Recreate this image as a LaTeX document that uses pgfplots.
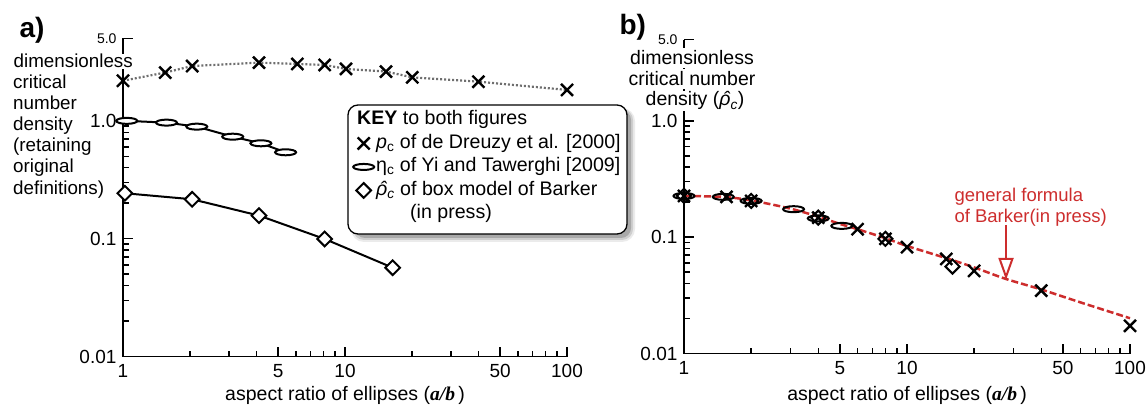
\documentclass[border=0pt]{standalone}
\usepackage{pgfplots}
\pgfplotsset{compat=1.18}
\usepackage{fontspec}
\setmainfont{Liberation Sans}
\newfontfamily\timesfont{Liberation Serif}
\usetikzlibrary{arrows.meta}
\definecolor{annred}{RGB}{205,45,45}
\definecolor{dotgray}{RGB}{110,110,110}
\newcommand{\fsz}[1]{\fontsize{#1}{#1}\selectfont}
\newcommand{\rhohat}{\textit{\makebox[0pt][l]{\hspace{0.2em}ˆ}ρ}}
\newcommand{\rhoc}{\rhohat\textsubscript{\textit{c}}}

\begin{document}
\begin{tikzpicture}
\useasboundingbox (0pt,0pt) rectangle (1146pt,407pt);

% legend box with soft shadow
\fill[black, opacity=0.08, rounded corners=13pt] (351pt,165pt) rectangle (635pt,299pt);
\fill[black, opacity=0.12, rounded corners=11pt] (353pt,167pt) rectangle (633pt,298pt);
\fill[black, opacity=0.18, rounded corners=10pt] (355pt,169pt) rectangle (631pt,297pt);
\filldraw[fill=white, draw=black, line width=1.3pt, rounded corners=10pt] (348pt,173pt) rectangle (627pt,302pt);

% ---------------- panel a
\begin{axis}[width=444pt, height=318pt, at={(123pt,50.5pt)}, anchor=south west,
    scale only axis, xmode=log, ymode=log,
    xmin=1, xmax=100, ymin=0.01, ymax=5,
    axis x line=bottom, axis y line=left,
    axis line style={line width=1.8pt,-},
    xtick={1,5,10,50,100}, xticklabels={1,5,10,50,100},
    minor xtick={2,3,4,6,7,8,9,20,30,40,60,70,80,90},
    ytick={0.01,0.1,1,5}, yticklabels={0.01,0.1,1.0,{\fsz{14}5.0}},
    minor ytick={0.02,0.03,0.04,0.05,0.06,0.07,0.08,0.09,0.2,0.3,0.4,0.5,0.6,0.7,0.8,0.9},
    tick style={line width=1.5pt, black},
    major tick length=10pt, minor tick length=6pt,
    tick align=inside,
    tick label style={font=\fsz{19}},
    xticklabel style={yshift=-4.3pt},
    yticklabel style={xshift=-3pt},
    clip=false,
  legend cell align=left,
  legend style={at={(0.509,0.7909)}, anchor=north west, draw=none, fill=none,
    font=\fsz{19.6}, inner xsep=4pt, inner ysep=3pt, row sep=0pt, column sep=0pt,
    nodes={inner xsep=2pt, inner ysep=3pt, text height=13.5pt, text depth=4pt}},
]
\addplot[forget plot, dotgray, dash pattern=on 2pt off 2pt, line width=2.2pt, mark=x, mark size=8.5pt,
  mark options={solid, black, line width=2.4pt}] coordinates {
  (1,2.19) (1.55,2.57) (2.05,2.92) (4.1,3.12) (6.1,3.04) (8.1,2.98)
  (10.1,2.76) (15.3,2.62) (20.1,2.34) (39.9,2.15) (100,1.83)};

\addplot[forget plot, black, line width=2pt, mark=*, mark size=3pt,
  mark options={solid, xscale=3.5, fill=white, draw=black, line width=2pt}] coordinates {
  (1.04,1.0) (1.57,0.966) (2.15,0.893) (3.12,0.734) (4.18,0.645) (5.4,0.541)};

\addplot[forget plot, black, line width=2pt, mark=square*, mark size=5.2pt,
  mark options={solid, rotate=45, fill=white, draw=black, line width=2pt}] coordinates {
  (1.02,0.243) (2.05,0.216) (4.1,0.157) (8.1,0.0994) (16.4,0.0567)};

\addlegendimage{empty legend}
\addlegendentry{\hspace*{-19pt}\textbf{KEY} to both figures}
\addlegendimage{only marks, mark=x, mark size=8.5pt, black, line width=2.4pt}
\addlegendentry{\textit{p}\textsubscript{c} of de Dreuzy et al. [2000]}
\addlegendimage{only marks, mark=*, mark size=3pt, mark options={xscale=3.5, fill=white, draw=black, line width=2pt}}
\addlegendentry{η\textsubscript{c} of Yi and Tawerghi [2009]}
\addlegendimage{only marks, mark=square*, mark size=5.2pt, mark options={rotate=45, fill=white, draw=black, line width=2pt}}
\addlegendentry{\rhoc{} of box model of Barker}
\addlegendimage{empty legend}
\addlegendentry{\hspace*{34pt}(in press)}
\end{axis}

% ---------------- panel b
\begin{axis}[width=446pt, height=314pt, at={(684pt,53.5pt)}, anchor=south west,
    scale only axis, xmode=log, ymode=log,
    xmin=1, xmax=100, ymin=0.01, ymax=5,
    axis x line=bottom, axis y line=left,
    axis line style={line width=1.8pt,-},
    xtick={1,5,10,50,100}, xticklabels={1,5,10,50,100},
    minor xtick={2,3,4,6,7,8,9,20,30,40,60,70,80,90},
    ytick={0.01,0.1,1,5}, yticklabels={0.01,0.1,1.0,{\fsz{14}5.0}},
    minor ytick={0.02,0.03,0.04,0.05,0.06,0.07,0.08,0.09,0.2,0.3,0.4,0.5,0.6,0.7,0.8,0.9},
    tick style={line width=1.5pt, black},
    major tick length=10pt, minor tick length=6pt,
    tick align=inside,
    tick label style={font=\fsz{19}},
    xticklabel style={yshift=-4.3pt},
    yticklabel style={xshift=-3pt},
    clip=false,
]
\addplot[annred, line width=2.5pt, dash pattern=on 7pt off 3pt, smooth, no marks] coordinates {
  (1,0.226) (1.5,0.222) (2,0.207) (3,0.176) (4,0.150) (5,0.130) (6,0.117)
  (8,0.098) (10,0.084) (15,0.066) (20,0.055) (27.5,0.044) (40,0.0355)
  (60,0.0275) (100,0.0201)};
\addplot[only marks, mark=x, mark size=8.5pt, mark options={black, line width=2.4pt}] coordinates {
  (1,0.226) (1.55,0.222) (2,0.205) (4,0.147) (6,0.117) (8,0.0967) (10,0.082)
  (15,0.065) (20,0.0513) (40,0.0347) (100,0.0173)};
\addplot[only marks, mark=o, mark size=3pt, mark options={black, xscale=3.5, line width=2pt}] coordinates {
  (1,0.226) (1.5,0.222) (2,0.205) (3.1,0.174) (4,0.145) (5.1,0.125)};
\addplot[only marks, mark=square, mark size=5pt, mark options={black, rotate=45, line width=2pt}] coordinates {
  (1,0.226) (2,0.205) (4,0.147) (8,0.0967) (16,0.0559)};
\draw[annred, line width=2pt, -{Triangle[open, length=22pt, width=15pt]}]
  (axis cs:27.8,0.1276) -- (axis cs:27.8,0.0429);
\end{axis}

% ---------------- texts
\node[anchor=base west, font=\bfseries\fsz{28}] at (16pt,369pt) {a)};
\node[anchor=base west, font=\bfseries\fsz{28}] at (616pt,372pt) {b)};

\node[anchor=base west, font=\fsz{18.8}, fill=white, inner sep=0.5pt] at (13pt,339pt) {dimensionless};
\node[anchor=base west, font=\fsz{18.8}, inner sep=0pt] at (13pt,318pt) {critical};
\node[anchor=base west, font=\fsz{18.8}, inner sep=0pt] at (13pt,297pt) {number};
\node[anchor=base west, font=\fsz{18.8}, inner sep=0pt] at (13pt,276pt) {density};
\node[anchor=base west, font=\fsz{18.8}, inner sep=0pt] at (13pt,255pt) {(retaining};
\node[anchor=base west, font=\fsz{18.8}, inner sep=0pt] at (13pt,234pt) {original};
\node[anchor=base west, font=\fsz{18.8}, inner sep=0pt] at (13pt,212pt) {definitions)};

\node[anchor=base, font=\fsz{19.5}, fill=white, inner xsep=1pt, inner ysep=2.5pt] at (692pt,342pt) {dimensionless};
\node[anchor=base, font=\fsz{19.5}, fill=white, inner xsep=1pt, inner ysep=2.5pt] at (692pt,321pt) {critical number};
\node[anchor=base, font=\fsz{19.5}, fill=white, inner xsep=1pt, inner ysep=1pt] at (695pt,301pt) {density (\rhoc)};

\node[anchor=base west, annred, font=\fsz{18.5}] at (951pt,205.3pt) {general formula};
\node[anchor=base west, annred, font=\fsz{18.5}] at (951pt,184.3pt) {of Barker(in press)};

\node[anchor=base, font=\fsz{19.5}] at (345pt,6pt) {aspect ratio of ellipses ({\timesfont\bfseries\itshape a/b}\,)};
\node[anchor=base, font=\fsz{19.5}] at (907pt,6pt) {aspect ratio of ellipses ({\timesfont\bfseries\itshape a/b}\,)};
\end{tikzpicture}
\end{document}
